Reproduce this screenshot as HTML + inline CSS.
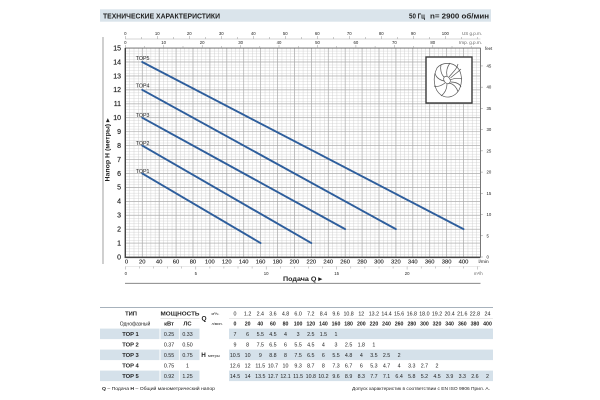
<!DOCTYPE html>
<html><head><meta charset="utf-8">
<style>
html,body{margin:0;padding:0;background:#fff;}
svg{display:block;}
text{font-family:"Liberation Sans",sans-serif;fill:#222;}
.yl{font-size:7px;text-anchor:end;fill:#222;stroke:#222;stroke-width:0.15;}
.xl{font-size:5.8px;text-anchor:middle;fill:#222;stroke:#222;stroke-width:0.12;}
.sm{font-size:4.3px;fill:#666;text-anchor:middle;}
.smr{font-size:4.3px;fill:#666;}
.lb{font-size:5.3px;}
.t{font-size:5.3px;text-anchor:middle;}
.tb{font-size:5.2px;text-anchor:middle;font-weight:bold;}
.th{font-size:5.8px;text-anchor:middle;font-weight:bold;}
</style></head><body>
<svg width="600" height="400" viewBox="0 0 600 400" xmlns="http://www.w3.org/2000/svg">
<defs>
<pattern id="minor" patternUnits="userSpaceOnUse" x="125.3" y="48.05" width="4.2275" height="2.786">
<path d="M0 0H4.2275M0 0V2.786" stroke="#c8c8c8" stroke-width="0.8" fill="none"/>
</pattern>
</defs>
<rect width="600" height="400" fill="#fff"/>

<!-- header -->
<rect x="100" y="9.3" width="391" height="12.4" fill="#dae4eb"/>
<text x="103" y="18.4" font-size="7.3" font-weight="bold" textLength="117" lengthAdjust="spacingAndGlyphs">ТЕХНИЧЕСКИЕ ХАРАКТЕРИСТИКИ</text>
<text x="409" y="18.4" font-size="7.3" font-weight="bold" textLength="16" lengthAdjust="spacingAndGlyphs">50 Гц</text>
<text x="430" y="18.4" font-size="7.3" font-weight="bold" textLength="59" lengthAdjust="spacingAndGlyphs">n= 2900 об/мин</text>

<!-- left frame line -->
<line x1="103" y1="37" x2="103" y2="264" stroke="#888" stroke-width="0.8"/>

<!-- plot grid -->
<rect x="125.3" y="48.05" width="355.1" height="208.95" fill="#fff"/>
<rect x="125.3" y="48.05" width="355.1" height="208.95" fill="url(#minor)"/>
<path d="M142.21 48V257M159.12 48V257M176.03 48V257M192.94 48V257M209.85 48V257M226.76 48V257M243.67 48V257M260.58 48V257M277.49 48V257M294.4 48V257M311.31 48V257M328.22 48V257M345.13 48V257M362.04 48V257M378.95 48V257M395.86 48V257M412.77 48V257M429.68 48V257M446.59 48V257M463.5 48V257
M125.3 243.07H480.4M125.3 229.14H480.4M125.3 215.21H480.4M125.3 201.28H480.4M125.3 187.35H480.4M125.3 173.42H480.4M125.3 159.49H480.4M125.3 145.56H480.4M125.3 131.63H480.4M125.3 117.7H480.4M125.3 103.77H480.4M125.3 89.84H480.4M125.3 75.91H480.4M125.3 61.98H480.4" stroke="#a8a8a8" stroke-width="0.6" fill="none"/>
<rect x="125.3" y="48.05" width="355.1" height="208.95" fill="none" stroke="#555" stroke-width="0.8"/>
<path d="M125.3 48V257.4H480.4" stroke="#444" stroke-width="1.4" fill="none"/>

<!-- impeller box -->
<rect x="426" y="57" width="46" height="46" fill="#fff" stroke="#3a3a3a" stroke-width="1.4"/>
<g fill="none" stroke="#555" stroke-width="0.7">
<path d="M437 68C442 62 452 62 457 67C462 72 463 82 459 90C455 97 447 99 441 95C434 90 432 78 437 68Z"/>
<ellipse cx="447" cy="80" rx="3" ry="4" transform="rotate(-35 447 80)"/>
<path d="M449 77C453 72 457 69 458 64"/>
<path d="M450.5 78C455 74 458 72 461 69"/>
<path d="M450 80C455 78 459 78 462 79"/>
<path d="M449 83C454 84 457 88 458 92"/>
<path d="M447 84C447 89 445 93 441 96"/>
<path d="M445 83C441 86 437 87 434 86"/>
<path d="M444 81C440 80 436 78 435 73"/>
<path d="M444 77C441 74 440 69 441 65"/>
<path d="M447 76C446 71 447 67 450 63"/>
<path d="M451 82C456 82 460 84 461 87"/>
</g>

<!-- curves -->
<g stroke="#2e5e9c" stroke-width="1.9" stroke-linecap="round">
<line x1="142.21" y1="173.42" x2="260.58" y2="243.07"/>
<line x1="142.21" y1="145.56" x2="311.31" y2="243.07"/>
<line x1="142.21" y1="117.7" x2="345.13" y2="229.14"/>
<line x1="142.21" y1="89.84" x2="395.86" y2="229.14"/>
<line x1="142.21" y1="61.98" x2="463.5" y2="229.14"/>
</g>
<text class="lb" x="135.7" y="60.2">TOP5</text>
<text class="lb" x="135.7" y="87.6">TOP4</text>
<text class="lb" x="135.7" y="117.2">TOP3</text>
<text class="lb" x="135.7" y="145">TOP2</text>
<text class="lb" x="135.7" y="173">TOP1</text>

<!-- y labels -->
<g class="yl">
<text x="121" y="259.4">0</text><text x="121" y="245.5">1</text><text x="121" y="231.5">2</text><text x="121" y="217.6">3</text>
<text x="121" y="203.7">4</text><text x="121" y="189.7">5</text><text x="121" y="175.8">6</text><text x="121" y="161.9">7</text>
<text x="121" y="148">8</text><text x="121" y="134">9</text><text x="121" y="120.1">10</text><text x="121" y="106.2">11</text>
<text x="121" y="92.2">12</text><text x="121" y="78.3">13</text><text x="121" y="64.4">14</text><text x="121" y="50.5">15</text>
</g>
<text transform="translate(109.3 150) rotate(-90)" font-size="6.3" font-weight="bold" text-anchor="middle" textLength="63" lengthAdjust="spacingAndGlyphs">Напор  H  (метры)  ▸</text>

<!-- x labels -->
<g class="xl">
<text x="126.5" y="263.4">0</text><text x="142.21" y="263.4">20</text><text x="159.12" y="263.4">40</text><text x="176.03" y="263.4">60</text>
<text x="192.94" y="263.4">80</text><text x="209.85" y="263.4">100</text><text x="226.76" y="263.4">120</text><text x="243.67" y="263.4">140</text>
<text x="260.58" y="263.4">160</text><text x="277.49" y="263.4">180</text><text x="294.4" y="263.4">200</text><text x="311.31" y="263.4">220</text>
<text x="328.22" y="263.4">240</text><text x="345.13" y="263.4">260</text><text x="362.04" y="263.4">280</text><text x="378.95" y="263.4">300</text>
<text x="395.86" y="263.4">320</text><text x="412.77" y="263.4">340</text><text x="429.68" y="263.4">360</text><text x="446.59" y="263.4">380</text>
<text x="463.5" y="263.4">400</text>
</g>
<text x="478.5" y="262.8" font-size="4.8">l/min</text>

<!-- m3/h axis -->
<line x1="125.3" y1="266.5" x2="480.4" y2="266.5" stroke="#ccc" stroke-width="0.4"/>
<path d="M125.3 266.5v3M139.4 266.5v2M153.5 266.5v2M167.6 266.5v2M181.7 266.5v2M195.8 266.5v3M209.9 266.5v2M223.9 266.5v2M238 266.5v2M252.1 266.5v2M266.2 266.5v3M280.3 266.5v2M294.4 266.5v2M308.5 266.5v2M322.6 266.5v2M336.7 266.5v3M350.8 266.5v2M364.9 266.5v2M379 266.5v2M393.1 266.5v2M407.1 266.5v3M421.2 266.5v2M435.3 266.5v2M449.4 266.5v2M463.5 266.5v2M477.6 266.5v3" stroke="#999" stroke-width="0.5"/>
<g class="sm">
<text x="125.8" y="275">0</text><text x="195.8" y="275">5</text><text x="266.2" y="275">10</text><text x="336.7" y="275">15</text><text x="407.1" y="275">20</text>
</g>
<text class="smr" x="474" y="275">m³/h</text>
<text x="283" y="281.2" font-size="6.8" font-weight="bold" textLength="39" lengthAdjust="spacingAndGlyphs">Подача  Q  ▸</text>
<line x1="125" y1="283.3" x2="480.5" y2="283.3" stroke="#777" stroke-width="0.8"/>

<!-- top axes -->
<line x1="125.3" y1="39" x2="480.4" y2="39" stroke="#aaa" stroke-width="0.5"/>
<path d="M125.3 39v-3M141.3 39v-2M157.3 39v-3M173.3 39v-2M189.3 39v-3M205.3 39v-2M221.3 39v-3M237.3 39v-2M253.3 39v-3M269.3 39v-2M285.3 39v-3M301.3 39v-2M317.3 39v-3M333.3 39v-2M349.3 39v-3M365.3 39v-2M381.3 39v-3M397.3 39v-2M413.3 39v-3M429.3 39v-2M445.3 39v-3M461.3 39v-2M477.3 39v-2" stroke="#999" stroke-width="0.5"/>
<path d="M125.3 48v-3M144.5 48v-2M163.7 48v-3M183 48v-2M202.2 48v-3M221.4 48v-2M240.6 48v-3M259.8 48v-2M279 48v-3M298.3 48v-2M317.5 48v-3M336.7 48v-2M355.9 48v-3M375.1 48v-2M394.4 48v-3M413.6 48v-2M432.8 48v-3M452 48v-2M471.2 48v-2" stroke="#999" stroke-width="0.5"/>
<g class="sm">
<text x="125.3" y="35">0</text><text x="157.3" y="35">10</text><text x="189.3" y="35">20</text><text x="221.3" y="35">30</text>
<text x="253.3" y="35">40</text><text x="285.3" y="35">50</text><text x="317.3" y="35">60</text><text x="349.3" y="35">70</text>
<text x="381.3" y="35">80</text><text x="413.3" y="35">90</text><text x="445.3" y="35">100</text>
<text x="125.3" y="43.8">0</text><text x="163.7" y="43.8">10</text><text x="202.2" y="43.8">20</text><text x="240.6" y="43.8">30</text>
<text x="279" y="43.8">40</text><text x="317.5" y="43.8">50</text><text x="355.9" y="43.8">60</text><text x="394.4" y="43.8">70</text>
<text x="432.8" y="43.8">80</text>
</g>
<text class="smr" x="462" y="35.2" textLength="20" lengthAdjust="spacingAndGlyphs">US g.p.m.</text>
<text class="smr" x="459" y="44" textLength="23" lengthAdjust="spacingAndGlyphs">Imp. g.p.m.</text>

<!-- feet axis -->
<path d="M480.4 257h2.5M480.4 235.77h2.5M480.4 214.54h2.5M480.4 193.31h2.5M480.4 172.09h2.5M480.4 150.86h2.5M480.4 129.63h2.5M480.4 108.4h2.5M480.4 87.17h2.5M480.4 65.94h2.5" stroke="#888" stroke-width="0.5"/>
<g class="smr">
<text x="486.5" y="258.5">0</text><text x="486.5" y="237.3">5</text><text x="486.5" y="216">10</text><text x="486.5" y="194.8">15</text>
<text x="486.5" y="173.6">20</text><text x="486.5" y="152.4">25</text><text x="486.5" y="131.1">30</text><text x="486.5" y="109.9">35</text>
<text x="486.5" y="88.7">40</text><text x="486.5" y="67.4">45</text>
<text x="485" y="50">feet</text>
</g>

<!-- table -->
<line x1="100" y1="307.5" x2="493" y2="307.5" stroke="#8a98a6" stroke-width="0.8"/>
<g fill="#d5e1ea">
<rect x="100" y="328.6" width="59.5" height="10.5"/><rect x="160.5" y="328.6" width="39" height="10.5"/><rect x="229" y="328.6" width="264" height="10.5"/>
<rect x="100" y="349.6" width="59.5" height="10.5"/><rect x="160.5" y="349.6" width="39" height="10.5"/><rect x="229" y="349.6" width="264" height="10.5"/>
<rect x="100" y="370.6" width="59.5" height="10.5"/><rect x="160.5" y="370.6" width="39" height="10.5"/><rect x="229" y="370.6" width="264" height="10.5"/>
</g>
<line x1="179.3" y1="328" x2="179.3" y2="382" stroke="#fff" stroke-width="0.8"/>
<line x1="160.5" y1="318.5" x2="199.5" y2="318.5" stroke="#bbb" stroke-width="0.4"/>
<line x1="229" y1="318.5" x2="493" y2="318.5" stroke="#ccc" stroke-width="0.4"/>

<text class="th" x="131" y="315.3">ТИП</text>
<text x="135" y="325.3" font-size="5" text-anchor="middle">Однофазный</text>
<text class="th" x="180" y="315.3" textLength="39" lengthAdjust="spacingAndGlyphs">МОЩНОСТЬ</text>
<text class="th" x="169" y="325.3">кВт</text>
<text class="th" x="187.5" y="325.3">ЛС</text>
<text x="204" y="320.5" font-size="6.5" font-weight="bold" text-anchor="middle">Q</text>
<text x="211.5" y="315" font-size="3.8" fill="#444">м³/ч.</text>
<text x="211.5" y="325" font-size="3.8" fill="#444">л/мин.</text>
<text x="203.5" y="357" font-size="6.3" font-weight="bold" text-anchor="middle">H</text>
<text x="208" y="356.8" font-size="4" fill="#444">метры</text>

<g class="th">
<text x="130.5" y="335.9">TOP 1</text><text x="130.5" y="346.4">TOP 2</text><text x="130.5" y="356.9">TOP 3</text>
<text x="130.5" y="367.4">TOP 4</text><text x="130.5" y="377.9">TOP 5</text>
</g>
<g class="t">
<text x="169" y="335.9">0.25</text><text x="187.5" y="335.9">0.33</text>
<text x="169" y="346.4">0.37</text><text x="187.5" y="346.4">0.50</text>
<text x="169" y="356.9">0.55</text><text x="187.5" y="356.9">0.75</text>
<text x="169" y="367.4">0.75</text><text x="187.5" y="367.4">1</text>
<text x="169" y="377.9">0.92</text><text x="187.5" y="377.9">1.25</text>
</g>

<!-- m3/h row -->
<g class="t">
<text x="235" y="315.3">0</text><text x="247.6" y="315.3">1.2</text><text x="260.3" y="315.3">2.4</text><text x="272.9" y="315.3">3.6</text>
<text x="285.5" y="315.3">4.8</text><text x="298.1" y="315.3">6.0</text><text x="310.8" y="315.3">7.2</text><text x="323.4" y="315.3">8.4</text>
<text x="336" y="315.3">9.6</text><text x="348.6" y="315.3">10.8</text><text x="361.3" y="315.3">12</text><text x="373.9" y="315.3">13.2</text>
<text x="386.5" y="315.3">14.4</text><text x="399.1" y="315.3">15.6</text><text x="411.8" y="315.3">16.8</text><text x="424.4" y="315.3">18.0</text>
<text x="437" y="315.3">19.2</text><text x="449.6" y="315.3">20.4</text><text x="462.3" y="315.3">21.6</text><text x="474.9" y="315.3">22.8</text>
<text x="487.5" y="315.3">24</text>
</g>
<!-- l/min row -->
<g class="tb">
<text x="235" y="325.3">0</text><text x="247.6" y="325.3">20</text><text x="260.3" y="325.3">40</text><text x="272.9" y="325.3">60</text>
<text x="285.5" y="325.3">80</text><text x="298.1" y="325.3">100</text><text x="310.8" y="325.3">120</text><text x="323.4" y="325.3">140</text>
<text x="336" y="325.3">160</text><text x="348.6" y="325.3">180</text><text x="361.3" y="325.3">200</text><text x="373.9" y="325.3">220</text>
<text x="386.5" y="325.3">240</text><text x="399.1" y="325.3">260</text><text x="411.8" y="325.3">280</text><text x="424.4" y="325.3">300</text>
<text x="437" y="325.3">320</text><text x="449.6" y="325.3">340</text><text x="462.3" y="325.3">360</text><text x="474.9" y="325.3">380</text>
<text x="487.5" y="325.3">400</text>
</g>
<!-- TOP1 -->
<g class="t">
<text x="235" y="335.9">7</text><text x="247.6" y="335.9">6</text><text x="260.3" y="335.9">5.5</text><text x="272.9" y="335.9">4.5</text>
<text x="285.5" y="335.9">4</text><text x="298.1" y="335.9">3</text><text x="310.8" y="335.9">2.5</text><text x="323.4" y="335.9">1.5</text>
<text x="336" y="335.9">1</text>
</g>
<!-- TOP2 -->
<g class="t">
<text x="235" y="346.4">9</text><text x="247.6" y="346.4">8</text><text x="260.3" y="346.4">7.5</text><text x="272.9" y="346.4">6.5</text>
<text x="285.5" y="346.4">6</text><text x="298.1" y="346.4">5.5</text><text x="310.8" y="346.4">4.5</text><text x="323.4" y="346.4">4</text>
<text x="336" y="346.4">3</text><text x="348.6" y="346.4">2.5</text><text x="361.3" y="346.4">1.8</text><text x="373.9" y="346.4">1</text>
</g>
<!-- TOP3 -->
<g class="t">
<text x="235" y="356.9">10.5</text><text x="247.6" y="356.9">10</text><text x="260.3" y="356.9">9</text><text x="272.9" y="356.9">8.8</text>
<text x="285.5" y="356.9">8</text><text x="298.1" y="356.9">7.5</text><text x="310.8" y="356.9">6.5</text><text x="323.4" y="356.9">6</text>
<text x="336" y="356.9">5.5</text><text x="348.6" y="356.9">4.8</text><text x="361.3" y="356.9">4</text><text x="373.9" y="356.9">3.5</text>
<text x="386.5" y="356.9">2.5</text><text x="399.1" y="356.9">2</text>
</g>
<!-- TOP4 -->
<g class="t">
<text x="235" y="367.4">12.6</text><text x="247.6" y="367.4">12</text><text x="260.3" y="367.4">11.5</text><text x="272.9" y="367.4">10.7</text>
<text x="285.5" y="367.4">10</text><text x="298.1" y="367.4">9.3</text><text x="310.8" y="367.4">8.7</text><text x="323.4" y="367.4">8</text>
<text x="336" y="367.4">7.3</text><text x="348.6" y="367.4">6.7</text><text x="361.3" y="367.4">6</text><text x="373.9" y="367.4">5.3</text>
<text x="386.5" y="367.4">4.7</text><text x="399.1" y="367.4">4</text><text x="411.8" y="367.4">3.3</text><text x="424.4" y="367.4">2.7</text>
<text x="437" y="367.4">2</text>
</g>
<!-- TOP5 -->
<g class="t">
<text x="235" y="377.9">14.5</text><text x="247.6" y="377.9">14</text><text x="260.3" y="377.9">13.5</text><text x="272.9" y="377.9">12.7</text>
<text x="285.5" y="377.9">12.1</text><text x="298.1" y="377.9">11.5</text><text x="310.8" y="377.9">10.8</text><text x="323.4" y="377.9">10.2</text>
<text x="336" y="377.9">9.6</text><text x="348.6" y="377.9">8.9</text><text x="361.3" y="377.9">8.3</text><text x="373.9" y="377.9">7.7</text>
<text x="386.5" y="377.9">7.1</text><text x="399.1" y="377.9">6.4</text><text x="411.8" y="377.9">5.8</text><text x="424.4" y="377.9">5.2</text>
<text x="437" y="377.9">4.5</text><text x="449.6" y="377.9">3.9</text><text x="462.3" y="377.9">3.3</text><text x="474.9" y="377.9">2.6</text>
<text x="487.5" y="377.9">2</text>
</g>

<!-- footer -->
<text x="102" y="389.8" font-size="4.3" fill="#333" textLength="113" lengthAdjust="spacingAndGlyphs"><tspan font-weight="bold">Q</tspan> – Подача   <tspan font-weight="bold">H</tspan> – Общий манометрический напор</text>
<text x="352" y="389.8" font-size="4.3" fill="#333" textLength="138" lengthAdjust="spacingAndGlyphs">Допуск характеристик в соответствии с EN ISO 9906 Прил. A.</text>
</svg>
</body></html>
